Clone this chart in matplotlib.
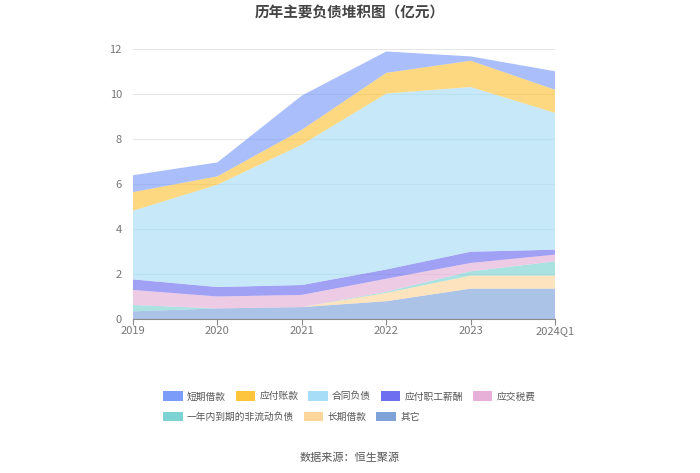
import numpy as np
import matplotlib.pyplot as plt
from matplotlib.patches import Patch

plt.rcParams['font.family'] = ['Noto Sans CJK SC', 'DejaVu Sans']

# ---------------- data (亿元) ----------------
years = ['2019', '2020', '2021', '2022', '2023', '2024Q1']

qita = [0.34, 0.47, 0.53, 0.79, 1.35, 1.35]          # 其它
changqi = [0.0, 0.0, 0.0, 0.37, 0.58, 0.58]         # 长期借款
yinian = [0.28, 0.0, 0.0, 0.05, 0.19, 0.63]         # 一年内到期的非流动负债
yingjiao = [0.67, 0.53, 0.54, 0.58, 0.37, 0.30]     # 应交税费
zhigong = [0.47, 0.42, 0.44, 0.41, 0.50, 0.22]      # 应付职工薪酬
hetong = [3.05, 4.55, 6.24, 7.82, 7.32, 6.08]       # 合同负债
zhangkuan = [0.83, 0.37, 0.66, 0.92, 1.17, 1.03]    # 应付账款
duanqi = [0.75, 0.62, 1.52, 0.95, 0.19, 0.82]       # 短期借款

# stacking order bottom -> top
series = [
    ('其它', qita, '#7fa3d9'),
    ('长期借款', changqi, '#fed69b'),
    ('一年内到期的非流动负债', yinian, '#7dd3d3'),
    ('应交税费', yingjiao, '#e6b0d8'),
    ('应付职工薪酬', zhigong, '#6e6ef0'),
    ('合同负债', hetong, '#a8ddf7'),
    ('应付账款', zhangkuan, '#fdc43e'),
    ('短期借款', duanqi, '#7b9cf9'),
]

fig = plt.figure(figsize=(7, 4.73), dpi=100)
ax = fig.add_axes([0.19, 0.3256, 0.603, 0.5708])

x = np.arange(len(years))
ax.stackplot(x, *[s[1] for s in series], colors=[s[2] for s in series],
             alpha=0.65, linewidth=0)

ax.set_xlim(0, len(years) - 1)
ax.set_ylim(0, 12)
ax.set_yticks(range(0, 13, 2))
ax.set_xticks(x)
ax.set_xticklabels(years)
ax.grid(axis='y', color='#e6e6e6', linewidth=0.8)
ax.set_axisbelow(True)
for sp in ['top', 'right', 'left']:
    ax.spines[sp].set_visible(False)
ax.spines['bottom'].set_color('#8a8a8a')
ax.tick_params(axis='y', length=0, labelsize=8, labelcolor='#777777', pad=8)
ax.tick_params(axis='x', length=4, color='#8a8a8a', labelsize=8,
               labelcolor='#777777', pad=1)

fig.text(0.5, 0.974, '历年主要负债堆积图（亿元）', ha='center', va='center',
         fontsize=10.5, fontweight='bold', color='#444444')

# legend, two rows laid out like a flow
by_name = {s[0]: s[2] for s in series}
row1 = ['短期借款', '应付账款', '合同负债', '应付职工薪酬', '应交税费']
row2 = ['一年内到期的非流动负债', '长期借款', '其它']
for names, ypos in [(row1, 0.162), (row2, 0.119)]:
    handles = [Patch(facecolor=by_name[n], edgecolor='none') for n in names]
    leg = fig.legend(handles, names, loc='center left',
                     bbox_to_anchor=(0.233, ypos), ncol=len(names),
                     frameon=False, fontsize=7, handlelength=2.0,
                     handleheight=1.1, handletextpad=0.45, columnspacing=1.0,
                     borderaxespad=0, borderpad=0)
    for t in leg.get_texts():
        t.set_color('#555555')

fig.text(0.5, 0.032, '数据来源：恒生聚源', ha='center', va='center',
         fontsize=8, color='#555555')

fig.savefig('out.png', dpi=100)
